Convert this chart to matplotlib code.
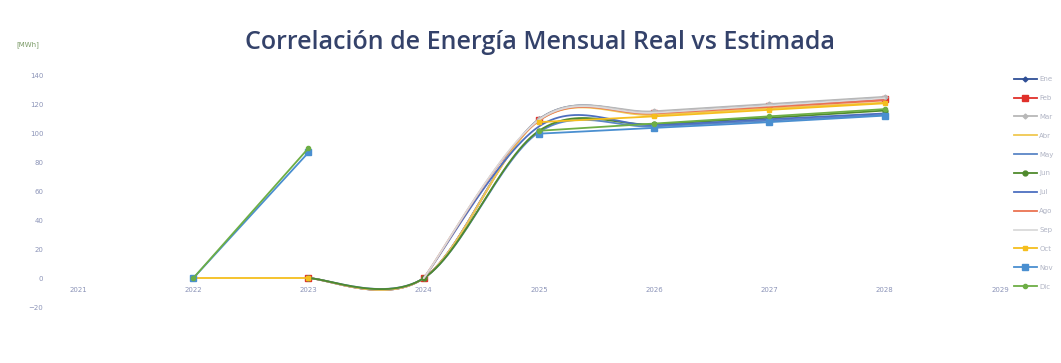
import numpy as np
import matplotlib
matplotlib.use('Agg')
import matplotlib.pyplot as plt
from matplotlib.lines import Line2D

#energy per month (MWh), None = no value for that year
years = [2022, 2023, 2024, 2025, 2026, 2027, 2028]
months = ['Ene', 'Feb', 'Mar', 'Abr', 'May', 'Jun', 'Jul', 'Ago', 'Sep', 'Oct', 'Nov', 'Dic']

ene = [None, 0, 0, 110, 115, 120, 125]
feb = [None, 0, 0, 109.5, 114.5, 119, 124]
mar = [None, 0, 0, 110, 115.5, 120.5, 125.5]
abr = [None, 0, 0, 109, 113, 117.5, 121.5]
may = [None, 0, 0, 101, 105, 109, 113]
jun = [None, 0, 0, 102, 106.5, 111, 116]
jul = [None, None, 0, 105, 106, 110, 114]
ago = [None, None, 0, 109, 114, 118.5, 123]
sep = [None, None, 0, 109.5, 114.5, 119.5, 124.5]
oct_ = [0, 0, None, 108, 112, 116.5, 121]
nov = [0, 87, None, 100, 104, 108, 112.5]
dic = [0, 90, None, 102, 107, 112, 117]
series = [ene, feb, mar, abr, may, jun, jul, ago, sep, oct_, nov, dic]

colors = ['#2F4F96', '#E0302A', '#B8B8B8', '#F0C850', '#5A86C6', '#4F8A2C',
          '#4D6FC0', '#EA7352', '#DADADA', '#F5BE1E', '#4A8FD0', '#6DAE45']
markers = ['D', 's', 'D', '', '', 'o', '', '', '', 's', 's', 'o']
msizes = [2.5, 4, 2.5, 0, 0, 3.5, 0, 0, 0, 3, 4, 3]


def bezier_smooth(xs, ys, n=30):
	#excel-like smoothing: catmull-rom through the points as cubic bezier pieces
	px = np.array(xs, dtype=float)
	py = np.array(ys, dtype=float)
	if len(px) < 3:
		return px, py
	outx, outy = [px[0]], [py[0]]
	t = np.linspace(0, 1, n)[1:]
	for i in range(len(px) - 1):
		p0 = (px[i-1], py[i-1]) if i > 0 else (px[i], py[i])
		p3 = (px[i+2], py[i+2]) if i + 2 < len(px) else (px[i+1], py[i+1])
		c1x = px[i] + (px[i+1] - p0[0]) / 6
		c1y = py[i] + (py[i+1] - p0[1]) / 6
		c2x = px[i+1] - (p3[0] - px[i]) / 6
		c2y = py[i+1] - (p3[1] - py[i]) / 6
		bx = (1-t)**3*px[i] + 3*(1-t)**2*t*c1x + 3*(1-t)*t**2*c2x + t**3*px[i+1]
		by = (1-t)**3*py[i] + 3*(1-t)**2*t*c1y + 3*(1-t)*t**2*c2y + t**3*py[i+1]
		outx.extend(bx)
		outy.extend(by)
	return np.array(outx), np.array(outy)


def segments(xs, ys):
	segs, cur = [], []
	for x, y in zip(xs, ys):
		if y is None:
			if cur:
				segs.append(cur)
			cur = []
		else:
			cur.append((x, y))
	if cur:
		segs.append(cur)
	return segs


fig = plt.figure(figsize=(10.61, 3.63), dpi=100)
ax = fig.add_axes([0.0735, 0.154, 0.869, 0.637])

for vals, col, mk, ms in zip(series, colors, markers, msizes):
	for seg in segments(years, vals):
		sx = [p[0] for p in seg]
		sy = [p[1] for p in seg]
		cx, cy = bezier_smooth(sx, sy)
		ax.plot(cx, cy, color=col, lw=1.3, solid_capstyle='round')
		if mk:
			ax.plot(sx, sy, ls='none', marker=mk, ms=ms, color=col)

ax.set_xlim(2021, 2029)
ax.set_ylim(-20, 140)
ax.set_yticks(np.arange(-20, 141, 20))
ax.set_xticks(range(2021, 2030))
for s in ['top', 'right', 'left']:
	ax.spines[s].set_visible(False)
ax.spines['bottom'].set_position(('data', 0))
ax.spines['bottom'].set_visible(False)
ax.tick_params(axis='y', length=0, pad=25, labelsize=5, labelcolor='#8C94B8')
ax.tick_params(axis='x', length=0, pad=6, labelsize=5, labelcolor='#8C94B8')

fig.text(0.5085, 0.882, 'Correlación de Energía Mensual Real vs Estimada', ha='center', va='center',
	fontsize=18, color='#34426A', family='Open Sans', weight='semibold')
fig.text(0.026, 0.876, '[MWh]', ha='center', va='center', fontsize=5, color='#7A9A66')

handles = [Line2D([0], [0], color=c, lw=1.3, marker=m if m else None, ms=ms)
	for c, m, ms in zip(colors, markers, msizes)]
fig.legend(handles, months, loc='upper left', bbox_to_anchor=(0.956, 0.79), frameon=False,
	fontsize=5, labelcolor='#B0B4C4', handlelength=3.2, handletextpad=0.4, labelspacing=1.85,
	borderaxespad=0, borderpad=0)

fig.savefig('out.png', dpi=100)
